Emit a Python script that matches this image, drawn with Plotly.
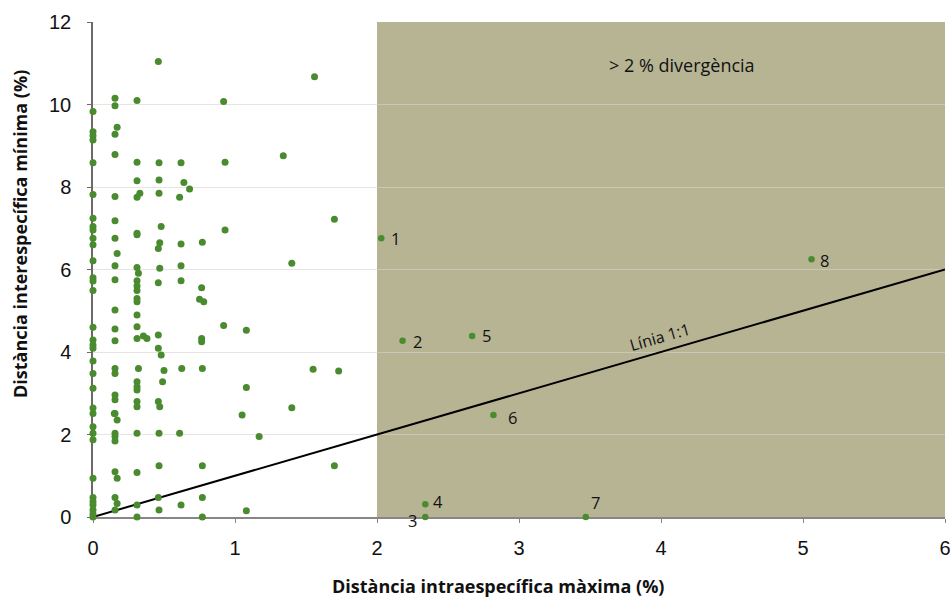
import plotly.graph_objects as go

# ---- data: unlabeled species (x = max intraspecific %, y = min interspecific %)
col0_y = [9.83, 9.34, 9.24, 9.14, 8.59, 7.82, 7.24, 7.04, 6.96, 6.76, 6.6, 6.21, 5.8, 5.72,
          5.49, 4.6, 4.29, 4.17, 4.09, 3.78, 3.48, 3.12, 2.64, 2.51, 2.19, 2.03, 1.87, 0.94,
          0.47, 0.37, 0.29, 0.17, 0.07, 0.0]
col0_x = [0.0] * len(col0_y)

others_x = [0.155, 0.155, 0.17, 0.155, 0.155, 0.155, 0.155, 0.155, 0.17, 0.155, 0.155, 0.155,
            0.155, 0.155, 0.155, 0.155, 0.155, 0.155, 0.155, 0.15, 0.17, 0.155, 0.155, 0.155,
            0.155, 0.155, 0.17, 0.155, 0.17,
            0.31, 0.31, 0.31, 0.31, 0.33, 0.31, 0.31, 0.31, 0.32, 0.31, 0.31, 0.31, 0.31, 0.31,
            0.31, 0.31, 0.31, 0.355, 0.38, 0.32, 0.31, 0.31, 0.31, 0.31, 0.31, 0.31, 0.31,
            0.31, 0.31,
            0.46, 0.465, 0.465, 0.465, 0.48, 0.47, 0.46, 0.47, 0.46, 0.46, 0.46, 0.48, 0.5,
            0.49, 0.46, 0.47, 0.465, 0.465, 0.46, 0.465,
            0.62, 0.64, 0.68, 0.61, 0.62, 0.62, 0.62, 0.625, 0.61, 0.62,
            0.77, 0.765, 0.75, 0.78, 0.765, 0.765, 0.77, 0.77, 0.77, 0.77,
            0.92, 0.93, 1.34, 1.70, 0.93, 1.40, 0.92, 1.08, 1.55, 1.73, 1.08, 1.40, 1.05,
            1.17, 1.70, 1.08, 1.56]
others_y = [10.15, 9.97, 9.45, 9.28, 8.79, 7.77, 7.18, 6.76, 6.39, 6.09, 5.75, 5.02,
            4.56, 4.27, 3.6, 3.48, 2.96, 2.84, 2.51, 2.51, 2.35, 2.03, 1.95, 1.84,
            1.1, 0.47, 0.94, 0.17, 0.33,
            10.1, 8.6, 8.15, 7.75, 7.85, 6.88, 6.84, 6.05, 5.91, 5.73, 5.6, 5.49, 5.3, 5.22,
            4.9, 4.61, 4.33, 4.39, 4.33, 3.6, 3.28, 3.16, 3.08, 2.8, 2.67, 2.03, 1.08,
            0.29, 0.0,
            11.04, 8.59, 8.17, 7.85, 7.04, 6.65, 6.51, 6.03, 5.68, 4.41, 4.09, 3.93, 3.55,
            3.28, 2.8, 2.67, 2.03, 1.24, 0.47, 0.17,
            8.59, 8.11, 7.95, 7.75, 6.62, 6.09, 5.73, 3.6, 2.03, 0.29,
            6.66, 5.56, 5.28, 5.22, 4.33, 4.25, 3.6, 1.24, 0.47, 0.0,
            10.07, 8.6, 8.76, 7.22, 6.96, 6.15, 4.64, 4.53, 3.58, 3.54, 3.14, 2.65, 2.47,
            1.95, 1.24, 0.15, 10.67]

# labelled species inside the >2 % zone
lab_names = ["1", "2", "3", "4", "5", "6", "7", "8"]
lab_x = [2.03, 2.18, 2.34, 2.34, 2.67, 2.82, 3.47, 5.06]
lab_y = [6.76, 4.27, 0.0, 0.31, 4.39, 2.47, 0.0, 6.25]

# 1:1 line
line_x = [0, 6]
line_y = [0, 6]

x_ticks = [0, 1, 2, 3, 4, 5, 6]
y_ticks = [0, 2, 4, 6, 8, 10, 12]

green = "#4a8b2f"
fig = go.Figure()

fig.add_shape(type="rect", x0=2, x1=6, y0=0, y1=12, xref="x", yref="y",
              fillcolor="#b7b494", line_width=0, layer="below")

fig.add_trace(go.Scatter(x=line_x, y=line_y, mode="lines",
                         line=dict(color="black", width=2), hoverinfo="skip"))
fig.add_trace(go.Scatter(x=col0_x + others_x, y=col0_y + others_y, mode="markers",
                         marker=dict(color=green, size=7), cliponaxis=False))
fig.add_trace(go.Scatter(x=lab_x, y=lab_y, mode="markers",
                         marker=dict(color=green, size=6.5), cliponaxis=False))

sans = "Open Sans, Liberation Sans, sans-serif"
num_font = dict(family=sans, size=16.5, color="#111")
offsets = {"1": (8, 0, "left"), "2": (8, -1, "left"), "3": (-6, -3, "right"),
           "4": (6, 3, "left"), "5": (8, 0, "left"), "6": (13, -2, "left"),
           "7": (3, 15, "left"), "8": (6, -1, "left")}
for n, x, y in zip(lab_names, lab_x, lab_y):
    dx, dy, anc = offsets[n]
    fig.add_annotation(x=x, y=y, text=n, showarrow=False, xshift=dx, yshift=dy,
                       xanchor=anc, yanchor="middle", font=num_font)

fig.add_annotation(x=3.99, y=4.36, text="Línia 1:1", showarrow=False, textangle=-16,
                   font=dict(family=sans, size=16, color="#111"))
fig.add_annotation(x=4.15, y=10.96, text="&gt; 2 % divergència", showarrow=False,
                   font=dict(family=sans, size=18, color="#111"))

fig.add_annotation(xref="paper", yref="paper", x=(498 - 93) / 852, y=-(586 - 517) / 495,
                   text="<b>Distància intraespecífica màxima (%)</b>", showarrow=False,
                   xanchor="center", yanchor="middle",
                   font=dict(family=sans, size=18, color="#111"))
fig.add_annotation(xref="paper", yref="paper", x=-(93 - 20) / 852, y=(517 - 234) / 495,
                   text="<b>Distància interespecífica mínima (%)</b>", showarrow=False,
                   textangle=-90, xanchor="center", yanchor="middle",
                   font=dict(family=sans, size=18, color="#111"))

tick_font = dict(family="Liberation Sans Narrow, Arial Narrow, Liberation Sans, sans-serif",
                 size=20, color="#111")
fig.update_layout(
    width=950, height=600,
    margin=dict(l=93, r=5, t=22, b=83, autoexpand=False),
    paper_bgcolor="white", plot_bgcolor="white",
    showlegend=False,
    xaxis=dict(range=[0, 6], tickvals=x_ticks, showgrid=False, zeroline=False,
               showline=True, linecolor="#8a8585", linewidth=1.5, ticks="outside",
               ticklen=4, tickcolor="#8a8585", tickfont=tick_font, layer="below traces",
               ticklabelstandoff=8, automargin=False, ticklabeloverflow="allow"),
    yaxis=dict(range=[0, 12], tickvals=y_ticks, showgrid=True,
               gridcolor="rgba(215,210,210,0.6)", gridwidth=1, zeroline=False,
               showline=True, linecolor="#6e6868", linewidth=1.5, ticks="outside",
               ticklen=4, tickcolor="#6e6868", tickfont=tick_font, layer="below traces",
               ticklabelstandoff=12, automargin=False, ticklabeloverflow="allow"),
)

fig.write_html("out.html", config={"displayModeBar": False},
               post_script="document.body.style.margin='0';document.body.style.overflow='hidden';")
